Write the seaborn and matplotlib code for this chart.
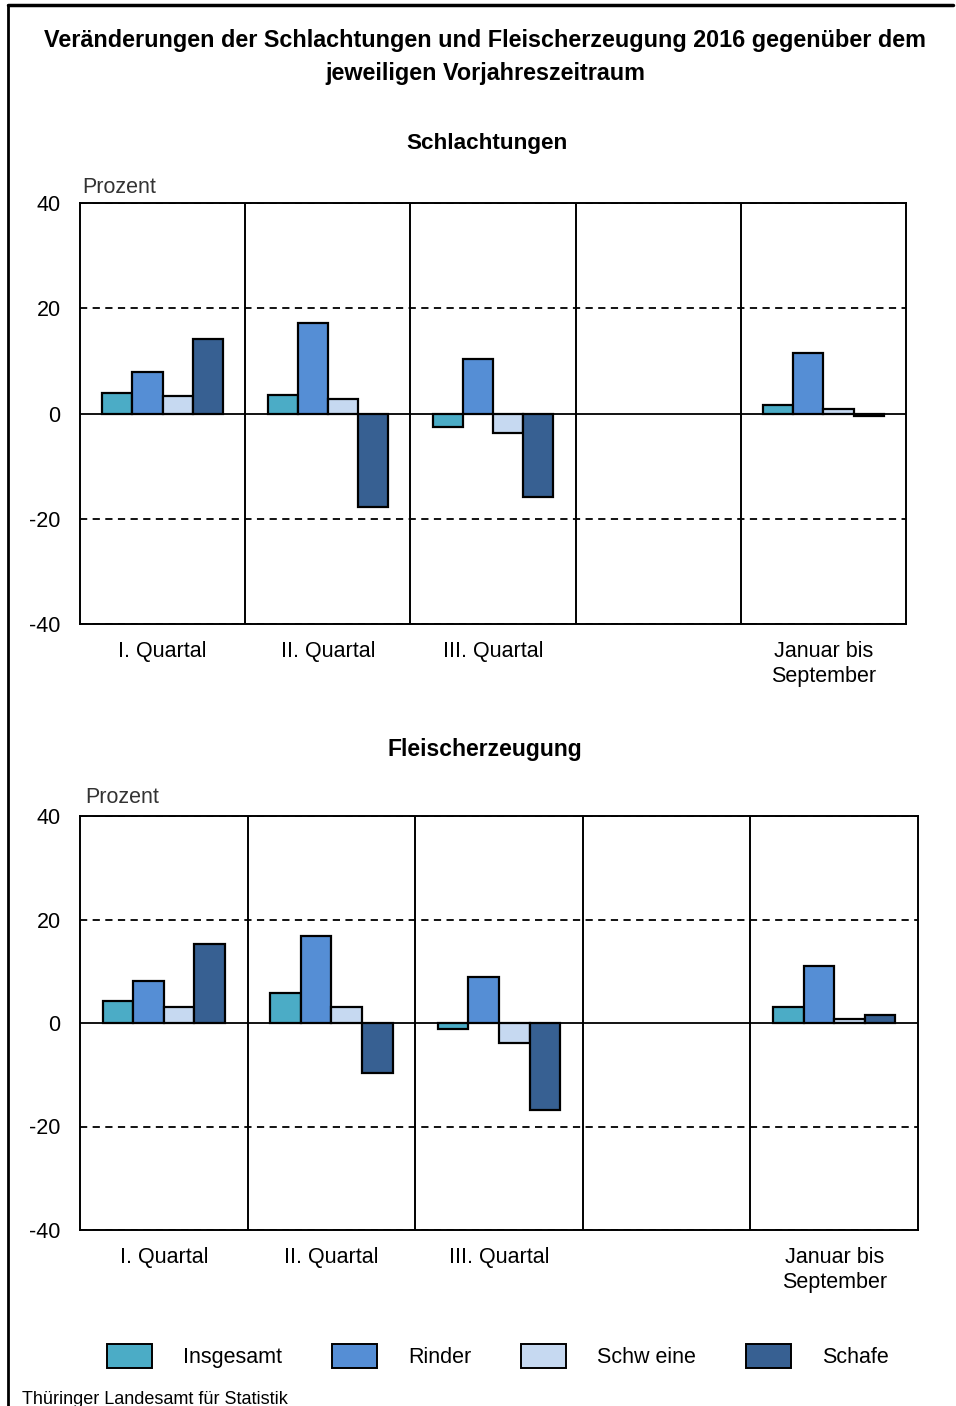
import numpy as np
import pandas as pd
import matplotlib
matplotlib.use("Agg")
import matplotlib.pyplot as plt
from matplotlib.lines import Line2D
from matplotlib.patches import Patch
import seaborn as sns

# ---------------- data ----------------
categories = ["I. Quartal", "II. Quartal", "III. Quartal", " ", "Januar bis\nSeptember"]
series = ["Insgesamt", "Rinder", "Schweine", "Schafe"]
series_labels = ["Insgesamt", "Rinder", "Schw eine", "Schafe"]

schl_insgesamt = [3.9, 3.5, -2.6, np.nan, 1.6]
schl_rinder = [7.8, 17.2, 10.3, np.nan, 11.5]
schl_schweine = [3.4, 2.7, -3.8, np.nan, 0.8]
schl_schafe = [14.2, -17.8, -15.9, np.nan, -0.4]

fleisch_insgesamt = [4.3, 5.8, -1.1, np.nan, 3.0]
fleisch_rinder = [8.1, 16.9, 8.8, np.nan, 11.1]
fleisch_schweine = [3.0, 3.0, -3.9, np.nan, 0.7]
fleisch_schafe = [15.3, -9.7, -16.9, np.nan, 1.5]

yticks = [-40, -20, 0, 20, 40]
colors = ["#4BACC6", "#558ED5", "#C6D9F1", "#376092"]

title = "Veränderungen der Schlachtungen und Fleischerzeugung 2016 gegenüber dem\njeweiligen Vorjahreszeitraum"
sub1 = "Schlachtungen"
sub2 = "Fleischerzeugung"
unit = "Prozent"
source = "Thüringer Landesamt für Statistik"


def long_df(vals):
    rows = []
    for s, v in zip(series, vals):
        for c, x in zip(categories, v):
            rows.append({"cat": c, "series": s, "value": x})
    return pd.DataFrame(rows).dropna()


df1 = long_df([schl_insgesamt, schl_rinder, schl_schweine, schl_schafe])
df2 = long_df([fleisch_insgesamt, fleisch_rinder, fleisch_schweine, fleisch_schafe])

sns.set_theme(style="white")
plt.rcParams["font.family"] = ["Liberation Sans", "DejaVu Sans"]
plt.rcParams["text.color"] = "black"
plt.rcParams["xtick.color"] = "black"
plt.rcParams["ytick.color"] = "black"

W, H = 956, 1406
fig = plt.figure(figsize=(W / 100, H / 100), dpi=100)


def px_axes(l, t, r, b):
    return fig.add_axes([l / W, 1 - b / H, (r - l) / W, (b - t) / H])


ax1 = px_axes(80, 203, 906, 624)
ax2 = px_axes(80, 816, 918, 1230)

fs = 15.5
for i, (ax, df) in enumerate([(ax1, df1), (ax2, df2)]):
    sns.barplot(data=df, x="cat", y="value", hue="series", order=categories,
                hue_order=series, palette=colors, width=0.73, ax=ax,
                edgecolor="black", linewidth=1.6, saturation=1, legend=False,
                errorbar=None, zorder=3)
    ax.set_ylim(-40, 40)
    ax.set_xlim(-0.5, len(categories) - 0.5)
    ax.set_yticks(yticks)
    ax.set_yticklabels([str(t) for t in yticks], fontsize=fs)
    ax.set_xticks(range(len(categories)))
    ax.set_xticklabels(categories, fontsize=fs, linespacing=1.3)
    ax.tick_params(axis="y", length=0, pad=14)
    ax.tick_params(axis="x", length=0, pad=12)
    ax.set_xlabel("")
    ax.set_ylabel("")
    for y in [-20, 20, 40, -40]:
        ax.axhline(y, color="black", lw=1.3, ls=(0, (4, 3)), zorder=1)
    ax.axhline(0, color="black", lw=1.3, zorder=4)
    for x in np.arange(0.5, len(categories) - 0.5, 1):
        ax.axvline(x, color="black", lw=1.4, zorder=2)
    for sp in ax.spines.values():
        sp.set_color("black")
        sp.set_linewidth(1.4)
    ax.grid(False)
    ax.text(0.003 if i == 0 else 0.006, 1.012 if i == 0 else 1.02, unit,
            transform=ax.transAxes, fontsize=fs,
            color="#333333", ha="left", va="bottom")

fig.text(485 / W, 1 - 57 / H, title, ha="center", va="center",
         fontsize=16.8, fontweight="bold", linespacing=1.55)
fig.text(487 / W, 1 - 143 / H, sub1, ha="center", va="center",
         fontsize=16.2, fontweight="bold")
fig.text(485 / W, 1 - 750 / H, sub2, ha="center", va="center",
         fontsize=16.5, fontweight="bold")
fig.text(22 / W, 1 - 1399 / H, source, ha="left", va="center", fontsize=13)

handles = [Patch(facecolor=c, edgecolor="black", linewidth=1.4) for c in colors]
fig.legend(handles, series_labels, loc="center", bbox_to_anchor=(498 / W, 1 - 1356 / H),
           ncol=4, frameon=False, fontsize=fs, handlelength=2.1, handleheight=1.4,
           handletextpad=1.45, columnspacing=2.3)

# outer frame
fig.add_artist(Line2D([8 / W, 8 / W], [0, 1 - 5 / H], color="black", lw=2,
                      transform=fig.transFigure))
fig.add_artist(Line2D([8 / W, 953 / W], [1 - 5 / H, 1 - 5 / H], color="black", lw=2.5,
                      transform=fig.transFigure))

fig.savefig("out.png", dpi=100, facecolor="white")
